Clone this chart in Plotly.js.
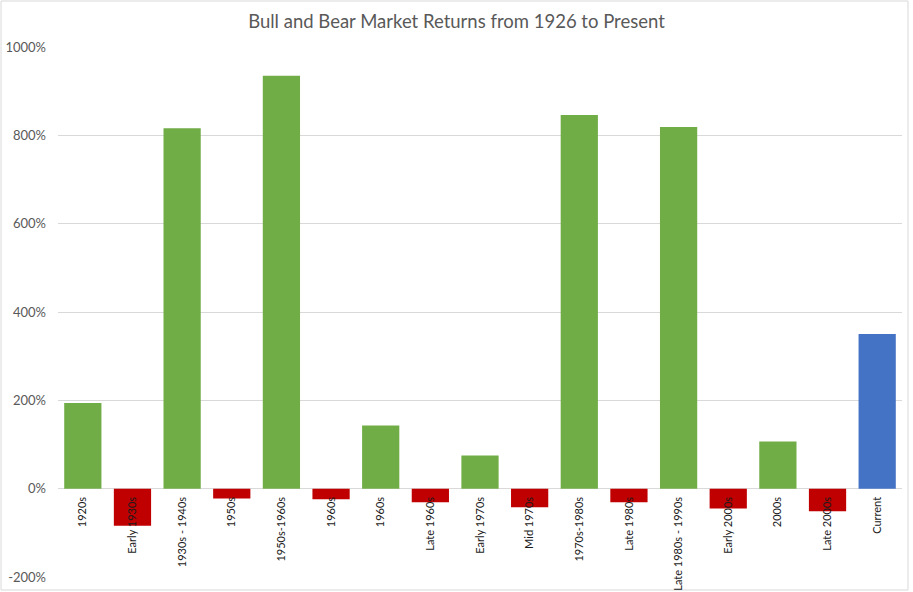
<!DOCTYPE html>
<html>
<head>
<meta charset="utf-8">
<script src="https://cdn.plot.ly/plotly-3.0.1.min.js"></script>
<style>
  html, body { margin: 0; padding: 0; background: #ffffff; }
  #chart { width: 913px; height: 592px; }
</style>
</head>
<body>
<div id="chart"></div>
<script>
// Market periods (x-axis categories)
const categories = [
  "1920s", "Early 1930s", "1930s - 1940s", "1950s", "1950s-1960s", "1960s",
  "1960s", "Late 1960s", "Early 1970s", "Mid 1970s", "1970s-1980s", "Late 1980s",
  "Late 1980s - 1990s", "Early 2000s", "2000s", "Late 2000s", "Current"
];
// Returns in percent
const returnsPct = [
  194, -84, 816, -22, 935, -24,
  143, -31, 75, -42, 846, -31,
  819, -45, 107, -51, 350
];
// y-axis tick values
const yTicks = [-200, 0, 200, 400, 600, 800, 1000];

const GREEN = "#70AD47", RED = "#C00000", BLUE = "#4472C4";
const idx = categories.map((_, i) => i);
const colors = returnsPct.map((v, i) => i === returnsPct.length - 1 ? BLUE : (v < 0 ? RED : GREEN));

const font = "Lato, 'Open Sans', 'Noto Sans', sans-serif";

const trace = {
  type: "bar",
  x: idx,
  y: returnsPct,
  marker: { color: colors, line: { width: 0 } },
  hoverinfo: "skip"
};

const layout = {
  width: 913,
  height: 592,
  margin: { l: 58, r: 11, t: 47, b: 15 },
  paper_bgcolor: "#ffffff",
  plot_bgcolor: "#ffffff",
  showlegend: false,
  bargap: 0.25,
  font: { family: font, color: "#595959" },
  title: {
    text: "Bull and Bear Market Returns from 1926 to Present",
    font: { family: font, size: 18.5, color: "#595959" },
    x: 0.5, xref: "container", xanchor: "center",
    y: 0.964, yref: "container", yanchor: "middle"
  },
  xaxis: {
    range: [-0.5, categories.length - 0.5],
    tickmode: "array",
    tickvals: idx,
    ticktext: categories,
    tickangle: -90,
    tickfont: { family: font, size: 11, color: "#1a1a1a" },
    ticks: "",
    showgrid: false,
    zeroline: false,
    showline: false,
    anchor: "free",
    position: (0 - yTicks[0]) / (yTicks[yTicks.length - 1] - yTicks[0]),
    ticklabelstandoff: 5,
    fixedrange: true
  },
  yaxis: {
    range: [yTicks[0], yTicks[yTicks.length - 1]],
    tickmode: "array",
    tickvals: yTicks,
    ticktext: yTicks.map(v => v + "%"),
    tickfont: { family: font, size: 13, color: "#595959" },
    ticks: "",
    showgrid: true,
    gridcolor: "#D9D9D9",
    gridwidth: 1,
    zeroline: true,
    zerolinecolor: "#D9D9D9",
    zerolinewidth: 1,
    showline: false,
    ticklabelstandoff: 11,
    fixedrange: true
  },
  shapes: [{
    type: "rect", xref: "paper", yref: "paper",
    x0: -0.0675, x1: 1.0071, y0: -0.0245, y1: 1.0868,
    line: { color: "#D9D9D9", width: 1 },
    fillcolor: "rgba(0,0,0,0)", layer: "below"
  }]
};

Plotly.newPlot("chart", [trace], layout, { displayModeBar: false, staticPlot: true });
</script>
</body>
</html>
